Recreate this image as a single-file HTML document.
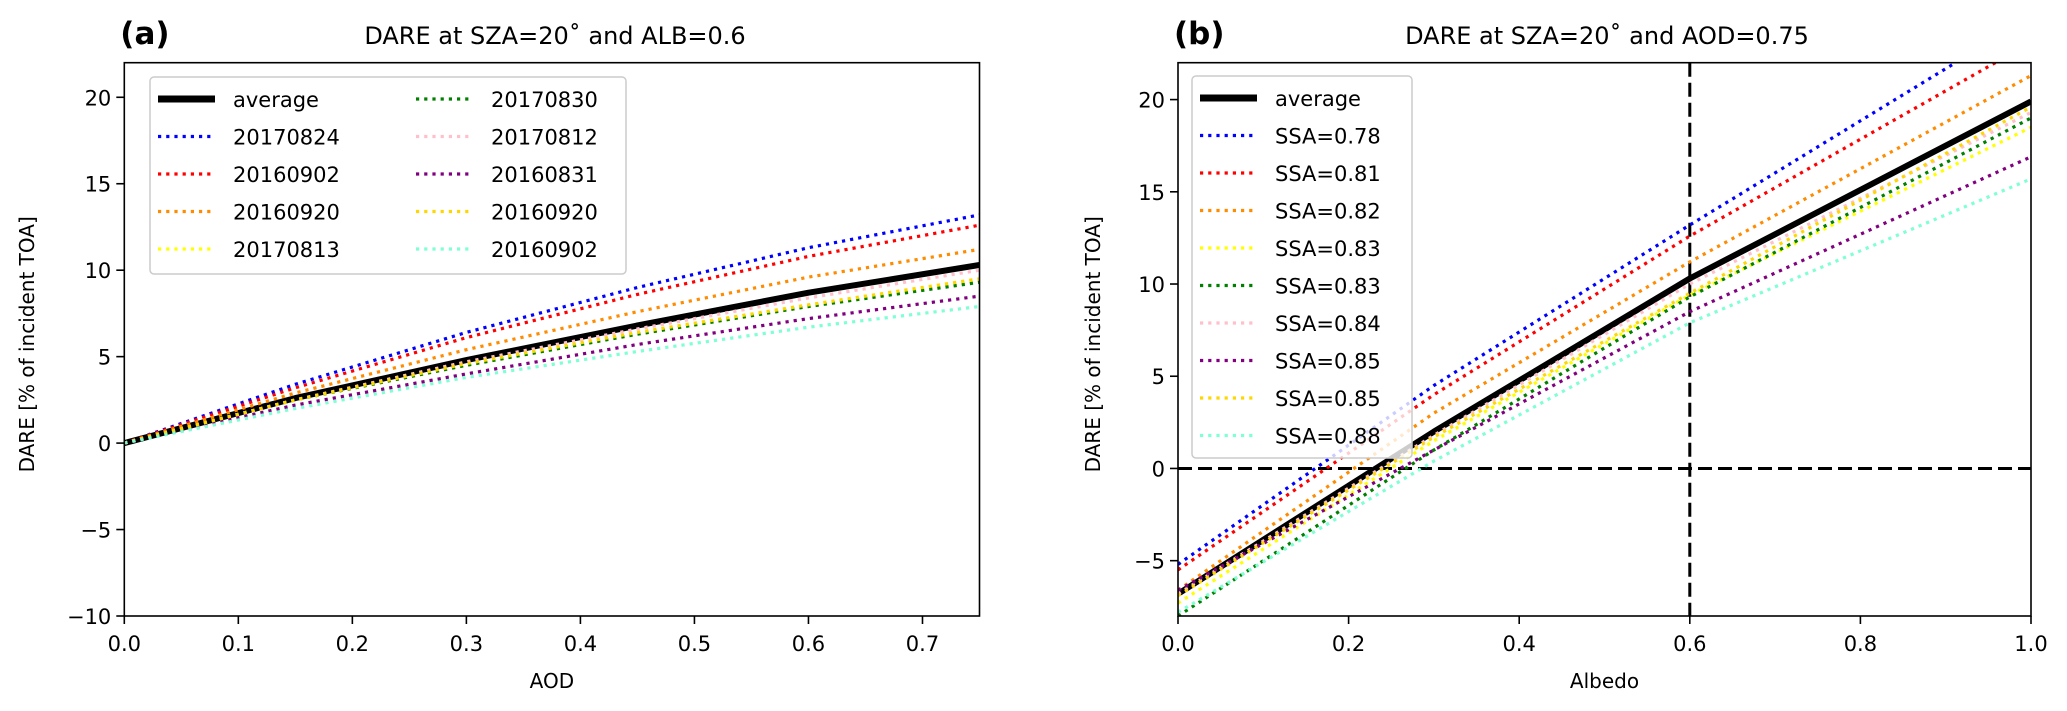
<!DOCTYPE html>
<html><head><meta charset="utf-8"><style>
body{margin:0;background:#fff}
svg text{font-family:"DejaVu Sans","Liberation Sans",sans-serif;fill:#000}
</style></head><body>
<svg id="chart" width="2067" height="706" viewBox="0 0 2067 706" xmlns="http://www.w3.org/2000/svg">
<defs>
<clipPath id="clipA"><rect x="124" y="63" width="855.5" height="553"/></clipPath>
<clipPath id="clipB"><rect x="1178" y="63" width="853" height="553"/></clipPath>
</defs>
<g id="panelA"></g>
<g id="panelB"></g>
</svg>
<script>
const NS='http://www.w3.org/2000/svg';
// Panel A data
const aodX=[0,0.15,0.3,0.45,0.6,0.75];
const aNames=['average','20170824','20160902','20160920','20170813','20170830','20170812','20160831','20160920','20160902'];
const aColors=['#000','blue','red','darkorange','yellow','green','pink','purple','gold','aquamarine'];
const aAvg=[0,2.6,4.8,6.8,8.7,10.3];
const a1=[0,3.4,6.4,9.0,11.3,13.2];
const a2=[0,3.2,6.1,8.6,10.8,12.6];
const a3=[0,2.9,5.4,7.6,9.6,11.2];
const a4=[0,2.5,4.5,6.3,7.9,9.4];
const a5=[0,2.5,4.5,6.3,7.9,9.3];
const a6=[0,2.5,4.7,6.6,8.4,10.0];
const a7=[0,2.2,4.0,5.7,7.2,8.5];
const a8=[0,2.5,4.6,6.4,8.0,9.5];
const a9=[0,2.0,3.8,5.3,6.7,7.9];
const aSeries=[aAvg,a1,a2,a3,a4,a5,a6,a7,a8,a9];
const aXTicks=['0.0','0.1','0.2','0.3','0.4','0.5','0.6','0.7'];
const aYTicks=['20','15','10','5','0','−5','−10'];
// Panel B data
const albX=[0,0.3,0.6,1];
const bNames=['average','SSA=0.78','SSA=0.81','SSA=0.82','SSA=0.83','SSA=0.83','SSA=0.84','SSA=0.85','SSA=0.85','SSA=0.88'];
const bAvg=[-6.8,2.0,10.3,19.9];
const b1=[-5.2,4.5,13.2,24.5];
const b2=[-5.5,4.0,12.6,23.1];
const b3=[-6.6,3.0,11.2,21.3];
const b4=[-7.3,1.5,9.4,18.5];
const b5=[-8.0,1.0,9.3,19.0];
const b6=[-6.8,1.8,10.0,19.3];
const b7=[-6.6,1.0,8.5,16.9];
const b8=[-6.9,1.7,9.5,19.6];
const b9=[-7.8,0.4,7.9,15.7];
const bSeries=[bAvg,b1,b2,b3,b4,b5,b6,b7,b8,b9];
const bXTicks=['0.0','0.2','0.4','0.6','0.8','1.0'];
const bYTicks=['20','15','10','5','0','−5'];

function mk(tag,attrs,parent,txt){const e=document.createElementNS(NS,tag);for(const k in attrs)e.setAttribute(k,attrs[k]);if(txt!==undefined)e.textContent=txt;parent.appendChild(e);return e;}

function panel(g,o){
  const sx=v=>o.x0+(v-o.xmin)/(o.xmax-o.xmin)*(o.x1-o.x0);
  const sy=v=>o.y1-(v-o.ymin)/(o.ymax-o.ymin)*(o.y1-o.y0);
  const lines=mk('g',{'clip-path':o.clip},g);
  
  
  if(o.ref){
    const h=mk('line',{x1:o.x0,x2:o.x1,y1:sy(0),y2:sy(0),stroke:'#000','stroke-width':3,'stroke-dasharray':'14,6'},lines);
    
    
    const v=mk('line',{x1:sx(0.6),x2:sx(0.6),y1:o.y0,y2:o.y1,stroke:'#000','stroke-width':3,'stroke-dasharray':'14,6'},lines);
    
    
  }
  o.series.forEach((s,i)=>{
    const d=s.map((v,j)=>(j?'L':'M')+sx(o.xs[j]).toFixed(1)+','+sy(v).toFixed(1)).join('');
    const p=mk('path',{d:d,fill:'none',stroke:aColors[i],'stroke-width':i?3.2:6,'stroke-dasharray':i?'3.2,5':'none','stroke-linejoin':'round'},lines);
    
    
  });
  const fr=mk('rect',{x:o.x0,y:o.y0,width:o.x1-o.x0,height:o.y1-o.y0,fill:'none',stroke:'#000','stroke-width':1.6},g);
  
  
  o.xt.forEach(t=>{const x=sx(parseFloat(t));
    mk('line',{x1:x,x2:x,y1:o.y1,y2:o.y1+8,stroke:'#000','stroke-width':1.6},g);
    const tx=mk('text',{x:x,y:o.y1+35,'text-anchor':'middle','font-size':21},g,t);
    
    });
  o.yt.forEach(t=>{const y=sy(parseFloat(t.replace('−','-')));
    mk('line',{x1:o.x0-8,x2:o.x0,y1:y,y2:y,stroke:'#000','stroke-width':1.6},g);
    const tx=mk('text',{x:o.x0-13,y:y+8,'text-anchor':'end','font-size':21},g,t);
    
    });
  const xl=mk('text',{x:(o.x0+o.x1)/2,y:688,'text-anchor':'middle','font-size':20},g,o.xlabel);
  
  
  const yl=mk('text',{x:0,y:0,'text-anchor':'middle','font-size':20,transform:`translate(${o.ylx},${(o.y0+o.y1)/2+5}) rotate(-90)`},g,'DARE [% of incident TOA]');
  
  
  const ti=mk('text',{x:o.tx,y:44,'text-anchor':'middle','font-size':24},g,o.title);
  
  
  const pl=mk('text',{x:o.x0-4,y:44,'font-size':31,'font-weight':'bold','font-family':'Liberation Sans Narrow, Liberation Sans, sans-serif'},g,o.plabel);
  
  
  // legend
  const lg=mk('g',{},g);
  
  
  mk('rect',{x:o.lx,y:o.ly,width:o.lw,height:o.lh,rx:4,fill:'#fff','fill-opacity':0.8,stroke:'#ccc','stroke-width':1.5},lg);
  o.names.forEach((n,i)=>{
    const col=o.cols>1?Math.floor(i/5):0,row=o.cols>1?i%5:i;
    const hx=o.lx+8+col*o.colw, y=o.ly+22+row*37.5;
    const e=mk('g',{},lg);
    
    
    mk('line',{x1:hx,x2:hx+57,y1:y,y2:y,stroke:aColors[i],'stroke-width':i?3.2:7,'stroke-dasharray':i?'3.2,5':'none'},e);
    mk('text',{x:hx+75,y:y+8,'font-size':21},e,n);
  });
}
panel(document.getElementById('panelA'),{x0:124.3,x1:979.5,y0:62.7,y1:616,xmin:0,xmax:0.75,ymin:-10,ymax:22,
  xs:aodX,series:aSeries,names:aNames,xt:aXTicks,yt:aYTicks,clip:'url(#clipA)',xlabel:'AOD',ylx:34,tx:555,
  title:'DARE at SZA=20$ and ALB=0.6'.replace('$','˚'),plabel:'(a)',lx:150,ly:77,lw:476,lh:197,cols:2,colw:258});
panel(document.getElementById('panelB'),{x0:1178,x1:2031,y0:62.7,y1:616,xmin:0,xmax:1,ymin:-8,ymax:22,
  xs:albX,series:bSeries,names:bNames,xt:bXTicks,yt:bYTicks,clip:'url(#clipB)',xlabel:'Albedo',ylx:1100,tx:1607,ref:true,
  title:'DARE at SZA=20$ and AOD=0.75'.replace('$','˚'),plabel:'(b)',lx:1192,ly:76,lw:220,lh:382,cols:1,colw:0});
</script>
</body></html>
